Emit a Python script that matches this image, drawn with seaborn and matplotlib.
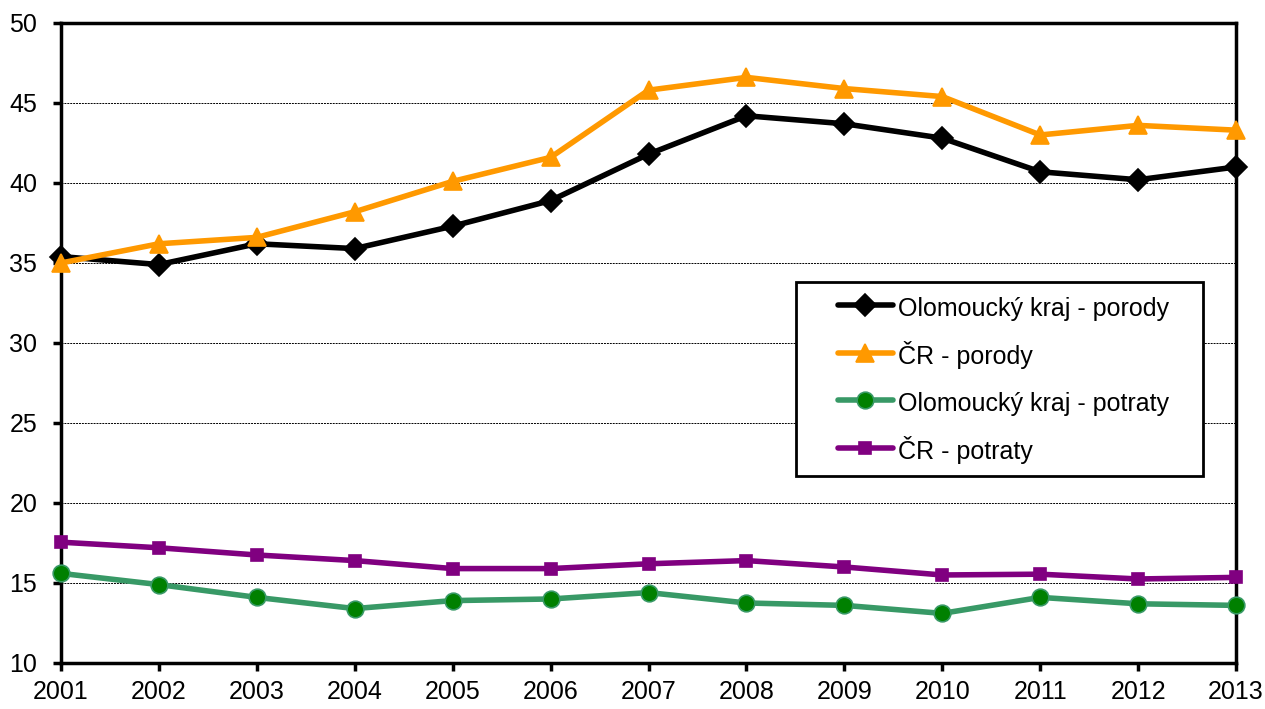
import pandas as pd
import seaborn as sns
import matplotlib.pyplot as plt
from matplotlib.patches import Rectangle

years = list(range(2001, 2014))
olomouc_porody = [35.4, 34.9, 36.2, 35.9, 37.3, 38.9, 41.8, 44.2, 43.7, 42.8, 40.7, 40.2, 41.0]
cr_porody = [35.0, 36.2, 36.6, 38.2, 40.1, 41.6, 45.8, 46.6, 45.9, 45.4, 43.0, 43.6, 43.3]
olomouc_potraty = [15.6, 14.9, 14.1, 13.4, 13.9, 14.0, 14.4, 13.75, 13.6, 13.1, 14.1, 13.7, 13.6]
cr_potraty = [17.55, 17.2, 16.75, 16.4, 15.9, 15.9, 16.2, 16.4, 16.0, 15.5, 15.55, 15.25, 15.35]

labels = ['Olomoucký kraj - porody', 'ČR - porody', 'Olomoucký kraj - potraty', 'ČR - potraty']

df = pd.DataFrame({'rok': years,
                   labels[0]: olomouc_porody,
                   labels[1]: cr_porody,
                   labels[2]: olomouc_potraty,
                   labels[3]: cr_potraty})
long_df = df.melt(id_vars='rok', var_name='rada', value_name='hodnota')

# line colour, marker, marker size, marker face
styles = {
    labels[0]: ('black', 'D', 11.5, 'black'),
    labels[1]: ('#FF9900', '^', 13, '#FF9900'),
    labels[2]: ('#389966', 'o', 12, '#008000'),
    labels[3]: ('#800080', 's', 9, '#800080'),
}

sns.set_style('white')
plt.rcParams['font.family'] = ['Liberation Sans', 'DejaVu Sans']
plt.rcParams['text.color'] = 'black'

fig = plt.figure(figsize=(12.65, 7.09), dpi=100)
ax = fig.add_axes([0.0482, 0.0649, 0.9289, 0.9027])

for name in labels:
    color, marker, ms, face = styles[name]
    sns.lineplot(data=long_df[long_df['rada'] == name], x='rok', y='hodnota',
                 color=color, marker=marker, markersize=ms, markerfacecolor=face,
                 markeredgecolor=color, markeredgewidth=1.2, linewidth=4,
                 label=name, ax=ax, clip_on=False, zorder=3)

ax.set_xlim(2001, 2013)
ax.set_ylim(10, 50)
ax.set_xticks(years)
ax.set_yticks(range(10, 51, 5))
ax.set_xlabel('')
ax.set_ylabel('')
ax.grid(axis='y', color='black', linestyle=(0, (2, 1)), linewidth=0.7)
ax.grid(axis='x', visible=False)
for s in ax.spines.values():
    s.set_color('black')
    s.set_linewidth(2.5)
ax.tick_params(axis='both', which='major', labelsize=18, length=6, width=2.5,
               direction='out', color='black', labelcolor='black', left=True, bottom=True)
ax.tick_params(axis='x', pad=6)
ax.tick_params(axis='y', pad=11)

# legend frame drawn separately so the entries can sit with a wider left gap
ax.add_patch(Rectangle((0.6255, 0.292), 0.3465, 0.303, transform=ax.transAxes,
                       facecolor='white', edgecolor='black', linewidth=2, zorder=4))
leg = ax.legend(loc='upper left', bbox_to_anchor=(0.661, 0.5763), fontsize=18,
                frameon=False, handlelength=2.2, handleheight=1.3, handletextpad=0.2,
                borderpad=0, labelspacing=0.79, borderaxespad=0)
leg.set_zorder(5)
for t in leg.get_texts():
    t.set_color('black')

fig.savefig('out.png', dpi=100, facecolor='white')
